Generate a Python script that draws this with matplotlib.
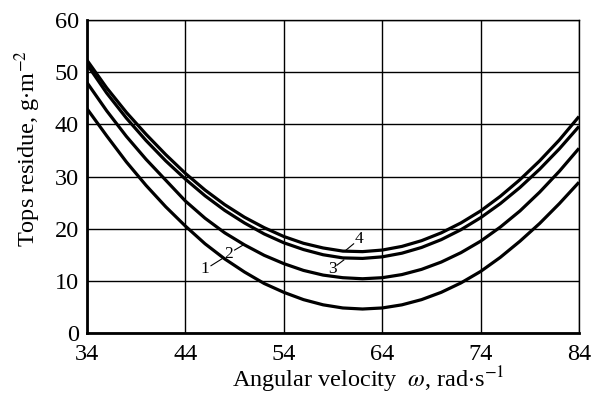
import matplotlib
matplotlib.use("Agg")
import matplotlib.pyplot as plt

plt.rcParams['font.family'] = ['Liberation Serif', 'DejaVu Serif']
plt.rcParams['mathtext.fontset'] = 'stix'

# angular velocity, rad/s
omega = [34, 36, 38, 40, 42, 44, 46, 48, 50, 52, 54, 56, 58,
         60, 62, 64, 66, 68, 70, 72, 74, 76, 78, 80, 82, 84]

# tops residue, g/m2, curves 1..4 (lowest to highest)
curve1 = [43.0, 37.8, 32.8, 28.3, 24.2, 20.5, 17.1, 14.2, 11.7, 9.5, 7.8, 6.4, 5.4,
          4.8, 4.6, 4.8, 5.4, 6.4, 7.8, 9.6, 11.8, 14.5, 17.6, 21.0, 24.8, 28.9]
curve2 = [48.0, 42.6, 37.7, 33.3, 29.3, 25.3, 22.0, 19.2, 16.9, 14.9, 13.3, 12.0, 11.1,
          10.6, 10.4, 10.6, 11.2, 12.2, 13.6, 15.4, 17.6, 20.3, 23.4, 27.0, 31.0, 35.4]
curve3 = [51.5, 46.0, 41.2, 36.9, 33.0, 29.5, 26.3, 23.5, 21.1, 19.0, 17.3, 16.0, 15.0,
          14.4, 14.3, 14.6, 15.3, 16.4, 17.9, 19.8, 22.1, 24.8, 27.9, 31.4, 35.3, 39.6]
curve4 = [52.3, 47.0, 42.3, 38.1, 34.2, 30.6, 27.4, 24.6, 22.2, 20.2, 18.5, 17.2, 16.3,
          15.7, 15.6, 15.9, 16.6, 17.7, 19.2, 21.1, 23.4, 26.2, 29.4, 33.0, 37.0, 41.5]

curve_labels = ['1', '2', '3', '4']
x_ticks = [34, 44, 54, 64, 74, 84]
y_ticks = [0, 10, 20, 30, 40, 50, 60]

fig = plt.figure(figsize=(5.93, 3.94), dpi=100)
ax = fig.add_axes([0.1467, 0.1548, 0.8297, 0.7944])

for ys in [curve1, curve2, curve3, curve4]:
    ax.plot(omega, ys, color='black', lw=2.3, solid_capstyle='butt', zorder=3)

# curve numbers with short leader lines
ax.text(46.0, 12.3, curve_labels[0], fontsize=12.5, ha='center', va='center')
ax.plot([46.6, 47.7], [12.9, 14.2], color='black', lw=0.8)
ax.text(48.4, 15.2, curve_labels[1], fontsize=12.5, ha='center', va='center')
ax.plot([49.0, 49.9], [15.9, 16.9], color='black', lw=0.8)
ax.text(58.9, 12.3, curve_labels[2], fontsize=12.5, ha='center', va='center')
ax.plot([59.4, 60.1], [13.0, 14.0], color='black', lw=0.8)
ax.text(61.6, 18.0, curve_labels[3], fontsize=12.5, ha='center', va='center')
ax.plot([61.1, 60.2], [17.1, 15.7], color='black', lw=0.8)

ax.set_xlim(34, 84)
ax.set_ylim(0, 60)
ax.set_xticks(x_ticks)
ax.set_yticks(y_ticks)
ax.tick_params(length=0, labelsize=17.5, pad=6)
ax.tick_params(axis='x', pad=8)
ax.grid(True, color='black', lw=1.0)
ax.set_axisbelow(True)

for side in ['top', 'right']:
    ax.spines[side].set_linewidth(1.0)
for side in ['left', 'bottom']:
    ax.spines[side].set_linewidth(2.0)

ax.set_xlabel(r'Angular velocity  $\omega$, rad$\cdot$s$^{-1}$', fontsize=17.5)
ax.set_ylabel(r'Tops residue, g$\cdot$m$^{-2}$', fontsize=17.5)
ax.xaxis.set_label_coords(0.571, -0.1)
ax.yaxis.set_label_coords(-0.09, 0.59)

fig.savefig('out.png', dpi=100)
